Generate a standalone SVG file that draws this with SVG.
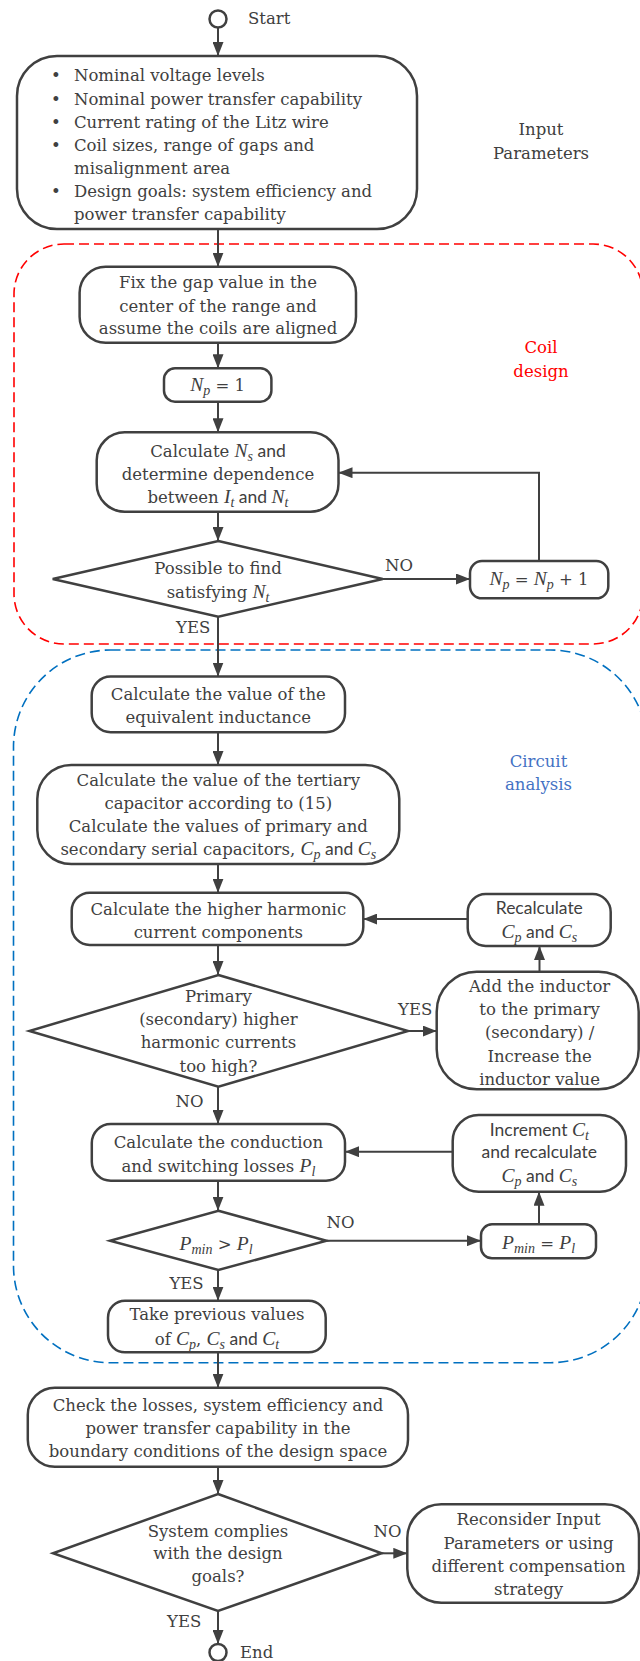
<svg xmlns="http://www.w3.org/2000/svg" width="640" height="1661" viewBox="0 0 640 1661">
<style>
.bx{fill:#fff;stroke:#404040;stroke-width:2.5}
.cn{fill:none;stroke:#404040;stroke-width:2}
.t{font-family:"DejaVu Serif","Liberation Serif",serif;font-size:16.5px;fill:#404040;text-anchor:middle}
.tl{font-family:"DejaVu Serif","Liberation Serif",serif;font-size:16.5px;fill:#404040}
.m{font-family:"Liberation Serif",serif;font-style:italic;font-size:19.5px}
.s{font-size:14px}
.sa{font-family:Lato,"Open Sans",sans-serif;font-size:17.5px}
.lb{font-family:"DejaVu Serif","Liberation Serif",serif;font-size:16.5px;fill:#404040}
</style>
<defs>
<marker id="ah" markerWidth="14" markerHeight="11" refX="14" refY="5.5" orient="auto" markerUnits="userSpaceOnUse"><path d="M0,0 L14,5.5 L0,11 z" fill="#404040"/></marker>
</defs>

<g id="regions">
<rect x="14" y="244" width="629" height="400" rx="50" fill="none" stroke="#ff0000" stroke-width="1.6" stroke-dasharray="10,5"/>
<rect x="13.5" y="650" width="634" height="712.7" rx="97" fill="none" stroke="#0070c0" stroke-width="1.6" stroke-dasharray="10,5"/>
<text x="541" y="135" class="t">Input</text>
<text x="541" y="159" class="t">Parameters</text>
<text x="541" y="353" class="t" style="fill:#ff0000">Coil</text>
<text x="541" y="376.5" class="t" style="fill:#ff0000">design</text>
<text x="538.5" y="766.7" class="t" style="fill:#4472c4">Circuit</text>
<text x="538.5" y="790" class="t" style="fill:#4472c4">analysis</text>
</g>

<g id="connectors">
<path class="cn" d="M218,27.5 V56" marker-end="url(#ah)"/>
<path class="cn" d="M218,229 V266.7" marker-end="url(#ah)"/>
<path class="cn" d="M218,342.7 V368.3" marker-end="url(#ah)"/>
<path class="cn" d="M218,401.7 V432.3" marker-end="url(#ah)"/>
<path class="cn" d="M218,511.7 V541" marker-end="url(#ah)"/>
<path class="cn" d="M382.7,579 H470" marker-end="url(#ah)"/>
<path class="cn" d="M539,561 V472.7 H338.5" marker-end="url(#ah)"/>
<path class="cn" d="M218,616.7 V676.5" marker-end="url(#ah)"/>
<path class="cn" d="M218,732.3 V765" marker-end="url(#ah)"/>
<path class="cn" d="M218,864 V892.7" marker-end="url(#ah)"/>
<path class="cn" d="M218,945 V975" marker-end="url(#ah)"/>
<path class="cn" d="M408,1031 H436.7" marker-end="url(#ah)"/>
<path class="cn" d="M539.5,971.7 V946" marker-end="url(#ah)"/>
<path class="cn" d="M467.7,919 H363.3" marker-end="url(#ah)"/>
<path class="cn" d="M218,1086.7 V1124" marker-end="url(#ah)"/>
<path class="cn" d="M218,1180.7 V1210.7" marker-end="url(#ah)"/>
<path class="cn" d="M326.5,1240.7 H481" marker-end="url(#ah)"/>
<path class="cn" d="M539,1224.3 V1191.7" marker-end="url(#ah)"/>
<path class="cn" d="M452.7,1151.7 H345" marker-end="url(#ah)"/>
<path class="cn" d="M218,1270 V1300.7" marker-end="url(#ah)"/>
<path class="cn" d="M218,1352.3 V1387.7" marker-end="url(#ah)"/>
<path class="cn" d="M218,1466.7 V1494" marker-end="url(#ah)"/>
<path class="cn" d="M381.6,1553.3 H407.3" marker-end="url(#ah)"/>
<path class="cn" d="M218,1611 V1644" marker-end="url(#ah)"/>
<text x="385" y="571" class="lb">NO</text>
<text x="176" y="633" class="lb">YES</text>
<text x="398" y="1015" class="lb">YES</text>
<text x="175.5" y="1106.7" class="lb">NO</text>
<text x="326.5" y="1228" class="lb">NO</text>
<text x="169.4" y="1289.3" class="lb">YES</text>
<text x="373.5" y="1537" class="lb">NO</text>
<text x="167" y="1627" class="lb">YES</text>
</g>

<g id="n-start">
<circle cx="218" cy="19" r="8.5" fill="#fff" stroke="#404040" stroke-width="2.5"/>
<text x="248" y="24" class="lb">Start</text>
</g>

<g id="n-input">
<rect class="bx" x="17" y="56" width="400" height="173" rx="40"/>
<text x="51" y="81" class="tl">•</text><text x="74" y="81" class="tl">Nominal voltage levels</text>
<text x="51" y="104.5" class="tl">•</text><text x="74" y="104.5" class="tl">Nominal power transfer capability</text>
<text x="51" y="127.5" class="tl">•</text><text x="74" y="127.5" class="tl">Current rating of the Litz wire</text>
<text x="51" y="150.5" class="tl">•</text><text x="74" y="150.5" class="tl">Coil sizes, range of gaps and</text>
<text x="74" y="174" class="tl">misalignment area</text>
<text x="51" y="197" class="tl">•</text><text x="74" y="197" class="tl">Design goals: system efficiency and</text>
<text x="74" y="220" class="tl">power transfer capability</text>
</g>

<g id="n-fixgap">
<rect class="bx" x="79.6" y="266.7" width="276.4" height="76" rx="26"/>
<text x="218" y="288" class="t">Fix the gap value in the</text>
<text x="218" y="311.5" class="t">center of the range and</text>
<text x="218" y="334" class="t">assume the coils are aligned</text>
</g>

<g id="n-np1">
<rect class="bx" x="164" y="368.3" width="107.4" height="33.4" rx="11"/>
<text x="217.7" y="390.7" class="t"><tspan class="m">N</tspan><tspan class="m s" dy="4">p</tspan><tspan dy="-4"> = 1</tspan></text>
</g>

<g id="n-calcns">
<rect class="bx" x="96.7" y="432.3" width="241.8" height="79.4" rx="28"/>
<text x="218" y="456.7" class="t">Calculate <tspan class="m">N</tspan><tspan class="m s" dy="4">s</tspan><tspan class="sa" dy="-4"> and</tspan></text>
<text x="218" y="480" class="t">determine dependence</text>
<text x="218" y="502.7" class="t">between <tspan class="m">I</tspan><tspan class="m s" dy="4">t</tspan><tspan class="sa" dy="-4"> and </tspan><tspan class="m">N</tspan><tspan class="m s" dy="4">t</tspan></text>
</g>

<g id="n-dec1">
<polygon class="bx" points="218.3,541 382.7,579 218.3,616.7 52.7,579"/>
<text x="218" y="574" class="t">Possible to find</text>
<text x="218" y="598.3" class="t">satisfying <tspan class="m">N</tspan><tspan class="m s" dy="4">t</tspan></text>
</g>

<g id="n-npinc">
<rect class="bx" x="470" y="561" width="138.3" height="37.3" rx="12"/>
<text x="539" y="585" class="t"><tspan class="m">N</tspan><tspan class="m s" dy="4">p</tspan><tspan dy="-4"> = </tspan><tspan class="m">N</tspan><tspan class="m s" dy="4">p</tspan><tspan dy="-4"> + 1</tspan></text>
</g>

<g id="n-equiv">
<rect class="bx" x="91.7" y="676.5" width="253.3" height="55.8" rx="19"/>
<text x="218.3" y="700" class="t">Calculate the value of the</text>
<text x="218.3" y="723.3" class="t">equivalent inductance</text>
</g>

<g id="n-tertiary">
<rect class="bx" x="37.3" y="765" width="362" height="99" rx="34"/>
<text x="218.3" y="785.7" class="t">Calculate the value of the tertiary</text>
<text x="218.3" y="809.3" class="t">capacitor according to (15)</text>
<text x="218.3" y="831.7" class="t">Calculate the values of primary and</text>
<text x="218.3" y="855" class="t">secondary serial capacitors, <tspan class="m">C</tspan><tspan class="m s" dy="4">p</tspan><tspan class="sa" dy="-4"> and </tspan><tspan class="m">C</tspan><tspan class="m s" dy="4">s</tspan></text>
</g>

<g id="n-harmonic">
<rect class="bx" x="71.7" y="892.7" width="291.6" height="52.3" rx="18"/>
<text x="218.3" y="915" class="t">Calculate the higher harmonic</text>
<text x="218.3" y="937.7" class="t">current components</text>
</g>

<g id="n-recalc">
<rect class="bx" x="467.7" y="894" width="143" height="52" rx="18"/>
<text x="539.3" y="914" class="t sa">Recalculate</text>
<text x="539.3" y="937.7" class="t"><tspan class="m">C</tspan><tspan class="m s" dy="4">p</tspan><tspan class="sa" dy="-4"> and </tspan><tspan class="m">C</tspan><tspan class="m s" dy="4">s</tspan></text>
</g>

<g id="n-dec2">
<polygon class="bx" points="218.4,975 408,1031 218.4,1086.7 29.4,1031"/>
<text x="218.4" y="1001.7" class="t">Primary</text>
<text x="218.4" y="1025" class="t">(secondary) higher</text>
<text x="218.4" y="1048.3" class="t">harmonic currents</text>
<text x="218.4" y="1071.7" class="t">too high?</text>
</g>

<g id="n-inductor">
<rect class="bx" x="436.7" y="971.7" width="202" height="117.6" rx="40"/>
<text x="539.6" y="991.7" class="t">Add the inductor</text>
<text x="539.6" y="1015" class="t">to the primary</text>
<text x="539.6" y="1038" class="t">(secondary) /</text>
<text x="539.6" y="1061.7" class="t">Increase the</text>
<text x="539.6" y="1085" class="t">inductor value</text>
</g>

<g id="n-losses">
<rect class="bx" x="91.8" y="1124" width="253.2" height="56.7" rx="19"/>
<text x="218.4" y="1148.3" class="t">Calculate the conduction</text>
<text x="218.4" y="1171.7" class="t">and switching losses <tspan class="m">P</tspan><tspan class="m s" dy="4">l</tspan></text>
</g>

<g id="n-increment">
<rect class="bx" x="452.7" y="1115" width="173.3" height="76.7" rx="26"/>
<text x="539.3" y="1136" class="t"><tspan class="sa">Increment </tspan><tspan class="m">C</tspan><tspan class="m s" dy="4">t</tspan></text>
<text x="539.3" y="1158.3" class="t sa">and recalculate</text>
<text x="539.3" y="1181.7" class="t"><tspan class="m">C</tspan><tspan class="m s" dy="4">p</tspan><tspan class="sa" dy="-4"> and </tspan><tspan class="m">C</tspan><tspan class="m s" dy="4">s</tspan></text>
</g>

<g id="n-dec3">
<polygon class="bx" points="218.4,1210.7 326.5,1240.7 218.4,1270 110,1240.7"/>
<text x="216" y="1250" class="t"><tspan class="m">P</tspan><tspan class="m s" dy="4">min</tspan><tspan dy="-4"> &gt; </tspan><tspan class="m">P</tspan><tspan class="m s" dy="4">l</tspan></text>
</g>

<g id="n-pmin">
<rect class="bx" x="481" y="1224.3" width="115" height="34" rx="11"/>
<text x="538.5" y="1249.3" class="t"><tspan class="m">P</tspan><tspan class="m s" dy="4">min</tspan><tspan dy="-4"> = </tspan><tspan class="m">P</tspan><tspan class="m s" dy="4">l</tspan></text>
</g>

<g id="n-previous">
<rect class="bx" x="108" y="1300.7" width="217.7" height="51.6" rx="17"/>
<text x="217" y="1320" class="t">Take previous values</text>
<text x="217" y="1345" class="t">of <tspan class="m">C</tspan><tspan class="m s" dy="4">p</tspan><tspan dy="-4">, </tspan><tspan class="m">C</tspan><tspan class="m s" dy="4">s</tspan><tspan class="sa" dy="-4"> and </tspan><tspan class="m">C</tspan><tspan class="m s" dy="4">t</tspan></text>
</g>

<g id="n-check">
<rect class="bx" x="27.8" y="1387.7" width="380.2" height="79" rx="27"/>
<text x="218" y="1410.7" class="t">Check the losses, system efficiency and</text>
<text x="218" y="1434.3" class="t">power transfer capability in the</text>
<text x="218" y="1457.3" class="t">boundary conditions of the design space</text>
</g>

<g id="n-dec4">
<polygon class="bx" points="218,1494 381.6,1553.3 218,1611 53,1553.3"/>
<text x="218" y="1536.7" class="t">System complies</text>
<text x="218" y="1559.3" class="t">with the design</text>
<text x="218" y="1581.7" class="t">goals?</text>
</g>

<g id="n-reconsider">
<rect class="bx" x="407.3" y="1504.3" width="231.7" height="98.4" rx="34"/>
<text x="528.6" y="1525" class="t">Reconsider Input</text>
<text x="528.6" y="1549.3" class="t">Parameters or using</text>
<text x="528.6" y="1571.7" class="t">different compensation</text>
<text x="528.6" y="1595" class="t">strategy</text>
</g>

<g id="n-end">
<circle cx="218" cy="1652.5" r="8.5" fill="#fff" stroke="#404040" stroke-width="2.5"/>
<text x="240" y="1658" class="lb">End</text>
</g>
</svg>
